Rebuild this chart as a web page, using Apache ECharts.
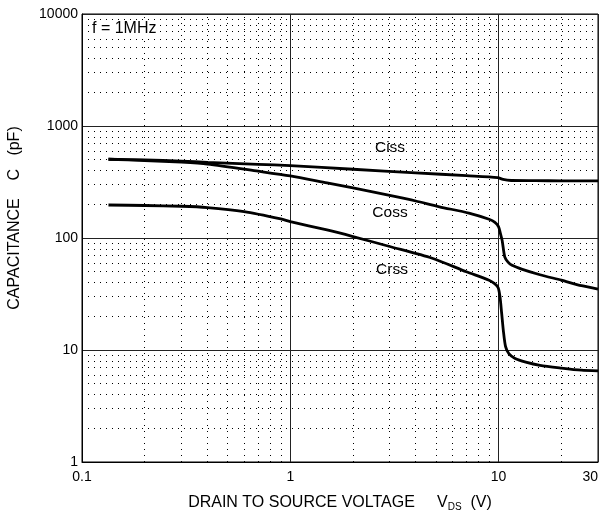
<!DOCTYPE html>
<html><head><meta charset="utf-8">
<script src="https://cdn.jsdelivr.net/npm/echarts@6/dist/echarts.min.js"></script>
<style>html,body{margin:0;padding:0;background:#fff}#c{width:608px;height:515px}</style>
</head><body><div id="c"></div>
<script>
// Drain-source voltage (V) and capacitance (pF)
const cissV = [0.134, 0.2, 0.3, 0.4, 0.7, 1, 2, 4, 7, 9.9, 10.5, 11.5, 15, 20, 30];
const cissC = [505, 498, 486, 474, 455, 442, 411, 382, 360, 346, 333, 326, 325, 324, 323];

const cossV = [0.134, 0.2, 0.3, 0.4, 0.7, 1, 1.5, 2, 3, 4, 5.2, 7.2, 9.0, 9.6, 10, 10.2, 10.4, 10.7, 11.1, 11.6, 13, 15.8, 20, 25, 30];
const cossC = [505, 492, 475, 457, 395, 358, 310, 280, 240, 214, 190, 167, 147, 138, 126, 110, 95, 68, 61, 57, 52.5, 47, 42, 37.5, 35];

const crssV = [0.134, 0.2, 0.3, 0.4, 0.6, 0.9, 1, 1.5, 2, 3, 4.8, 7, 9.0, 9.6, 9.95, 10.15, 10.35, 10.55, 10.8, 11.2, 12, 13.5, 15.8, 20, 25, 30];
const crssC = [197, 195, 192, 187, 172, 148, 140, 118, 103, 84, 66, 50, 42, 39, 36, 30, 21, 14.6, 10.7, 9.3, 8.4, 7.8, 7.3, 6.9, 6.6, 6.5];

// Minor grid positions
const xMinor = [0.2, 0.3, 0.4, 0.5, 0.6, 0.7, 0.8, 0.9, 2, 3, 4, 5, 6, 7, 8, 9, 20];
const yMinor = [2, 3, 4, 5, 6, 7, 8, 9, 20, 30, 40, 50, 60, 70, 80, 90, 200, 300, 400, 500, 600, 700, 800, 900, 2000, 3000, 4000, 5000, 6000, 7000, 8000, 9000];

const curveNames = ['Ciss', 'Coss', 'Crss'];
const curveLabels = ['Ciss', 'Coss', 'Crss'];

function pairs(xs, ys) { return xs.map((x, i) => [x, ys[i]]); }

const FONT = 'Liberation Sans, Arial, Helvetica, sans-serif';
const chart = echarts.init(document.getElementById('c'), null, {renderer: 'canvas'});

function fmt(v) {
  if (Math.abs(v - 0.1) < 1e-6) return '0.1';
  return String(Math.round(v));
}

const curveLine = {color: '#000', width: 2.8};

chart.setOption({
  animation: false,
  backgroundColor: '#fff',
  grid: {left: 82, right: 10, top: 14, bottom: 53, containLabel: false, outerBoundsMode: 'none',
         show: true, borderColor: '#000', borderWidth: 1},
  xAxis: {
    type: 'log', logBase: 10, min: 0.1, max: 30,
    axisLine: {show: true, lineStyle: {color: '#000', width: 1}},
    axisTick: {show: false},
    axisLabel: {color: '#000', fontSize: 14, fontFamily: FONT, margin: 8, formatter: fmt,
                showMaxLabel: true, showMinLabel: true, alignMaxLabel: 'right'},
    splitLine: {show: true, lineStyle: {color: '#222', width: 1}},
    name: 'DRAIN TO SOURCE VOLTAGE     V{sub|DS}  (V)',
    nameLocation: 'middle', nameGap: 32,
    nameTextStyle: {color: '#000', fontSize: 16, fontFamily: FONT,
      rich: {sub: {fontSize: 10, color: '#000', fontFamily: FONT, padding: [8, 0, 0, 0]}}}
  },
  yAxis: {
    type: 'log', logBase: 10, min: 1, max: 10000,
    axisLine: {show: true, lineStyle: {color: '#000', width: 1}},
    axisTick: {show: false},
    axisLabel: {color: '#000', fontSize: 14, fontFamily: FONT, margin: 4, formatter: fmt},
    splitLine: {show: true, lineStyle: {color: '#222', width: 1}},
    name: 'CAPACITANCE    C   (pF)',
    nameLocation: 'middle', nameGap: 59, nameRotate: 90,
    nameTextStyle: {color: '#000', fontSize: 16, fontFamily: FONT, padding: [0, 0, 0, 40]}
  },
  series: [
    {
      type: 'line', data: [], z: 1, silent: true,
      markLine: {
        silent: true, symbol: 'none', animation: false,
        label: {show: false},
        lineStyle: {color: '#000', width: 1, type: [1, 5], opacity: 1},
        data: xMinor.map(v => ({xAxis: v})).concat(yMinor.map(v => ({yAxis: v})))
      }
    },
    {name: curveNames[0], type: 'line', data: pairs(cissV, cissC), showSymbol: false, smooth: 0.25, lineStyle: curveLine, z: 3},
    {name: curveNames[1], type: 'line', data: pairs(cossV, cossC), showSymbol: false, smooth: 0.25, lineStyle: curveLine, z: 3},
    {name: curveNames[2], type: 'line', data: pairs(crssV, crssC), showSymbol: false, smooth: 0.25, lineStyle: curveLine, z: 3}
  ],
  graphic: [
    {type: 'text', left: 92, top: 21, z: 10, style: {text: 'f = 1MHz', fill: '#000', font: '16px ' + FONT, backgroundColor: '#fff'}},
    {type: 'text', x: 390, y: 148, z: 10, style: {text: curveLabels[0], fill: '#000', font: '15.5px ' + FONT, align: 'center', verticalAlign: 'middle'}},
    {type: 'text', x: 390, y: 213, z: 10, style: {text: curveLabels[1], fill: '#000', font: '15.5px ' + FONT, align: 'center', verticalAlign: 'middle'}},
    {type: 'text', x: 392, y: 270, z: 10, style: {text: curveLabels[2], fill: '#000', font: '15.5px ' + FONT, align: 'center', verticalAlign: 'middle'}}
  ]
});
</script></body></html>
